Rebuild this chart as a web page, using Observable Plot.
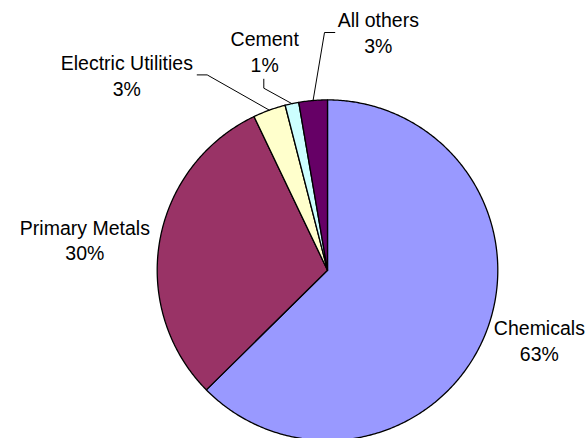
<!DOCTYPE html>
<html><head><meta charset="utf-8">
<script src="https://cdn.jsdelivr.net/npm/d3@7"></script>
<script src="https://cdn.jsdelivr.net/npm/@observablehq/plot@0.6"></script>
<style>
body{margin:0;background:#fff;}
#chart{width:588px;height:438px;overflow:hidden;}
</style>
</head><body><div id="chart"></div>
<script>
// ---- data ----
const categories = ["Chemicals", "Primary Metals", "Electric Utilities", "Cement", "All others"];
const shares = [62.6, 30.3, 3.1, 1.3, 2.7];
const sliceColors = ["#9999FF", "#993366", "#FFFFCC", "#CCFFFF", "#660066"];

// ---- layout ----
const W = 588, H = 438, R = 170.3, CX = 327, CY = 269.7;
const FONT_SIZE = 19.5;
const font = "'Liberation Sans', Arial, Helvetica, sans-serif";
// manually placed labels with leader lines (px from pie center, y up)
const leaderLayout = {
  "Electric Utilities": {label: [-200.7, 195.3], start: [-130.3, 195.3], elbow: [-120.3, 195.3]},
  "Cement":             {label: [-62.8, 219.8],  start: [-63.7, 191],    elbow: [-63.7, 182]},
  "All others":         {label: [50.8, 238.5],   start: [7.3, 237.7],    elbow: [-3, 237.7]}
};

const ctx = document.createElement("canvas").getContext("2d");
ctx.font = `${FONT_SIZE}px ${font}`;
const textWidth = t => d3.max(t.split("\n"), l => ctx.measureText(l).width);

const total = d3.sum(shares);
const arcs = d3.pie().sort(null).value(d => d)(shares);
const slices = arcs.map((a, i) => ({
  name: categories[i],
  share: shares[i],
  start: a.startAngle,
  end: a.endAngle,
  mid: (a.startAngle + a.endAngle) / 2,
  text: `${categories[i]}\n${Math.round(shares[i] / total * 100)}%`
}));

// polygon points for each slice
const slicePts = [];
for (const s of slices) {
  slicePts.push({name: s.name, x: 0, y: 0});
  const n = Math.max(2, Math.ceil((s.end - s.start) / (Math.PI / 360)));
  for (let k = 0; k <= n; k++) {
    const a = s.start + (s.end - s.start) * k / n;
    slicePts.push({name: s.name, x: R * Math.sin(a), y: R * Math.cos(a)});
  }
}

// labels: outside end, centred block; leader-line labels from layout
const labels = slices.map(s => {
  const L = leaderLayout[s.name];
  if (L) return {...s, x: L.label[0], y: L.label[1]};
  const ax = (R + 10) * Math.sin(s.mid), ay = (R + 10) * Math.cos(s.mid);
  const hw = textWidth(s.text) / 2;
  return {...s, x: ax + (ax >= 0 ? hw : -hw), y: ay};
});
const leaderPts = [];
for (const s of slices) {
  const L = leaderLayout[s.name];
  if (!L) continue;
  leaderPts.push({name: s.name, x: R * Math.sin(s.mid), y: R * Math.cos(s.mid)});
  leaderPts.push({name: s.name, x: L.elbow[0], y: L.elbow[1]});
  leaderPts.push({name: s.name, x: L.start[0], y: L.start[1]});
}

const chart = Plot.plot({
  width: W, height: H,
  margin: 0,
  style: {background: "white", fontFamily: font},
  x: {domain: [-R, R], range: [CX - R, CX + R], axis: null},
  y: {domain: [-R, R], range: [CY + R, CY - R], axis: null},
  color: {domain: categories, range: sliceColors},
  marks: [
    Plot.line(slicePts, {x: "x", y: "y", z: "name", fill: "name", stroke: "black", strokeWidth: 1.3, strokeLinejoin: "round", curve: "linear-closed"}),
    Plot.line(leaderPts, {x: "x", y: "y", z: "name", stroke: "black", strokeWidth: 1, curve: "linear"}),
    Plot.text(labels, {x: "x", y: "y", text: "text", textAnchor: "middle", fontSize: FONT_SIZE, lineHeight: 1.33, fill: "black", fontFamily: font})
  ]
});
document.getElementById("chart").appendChild(chart);
</script>
</body></html>
